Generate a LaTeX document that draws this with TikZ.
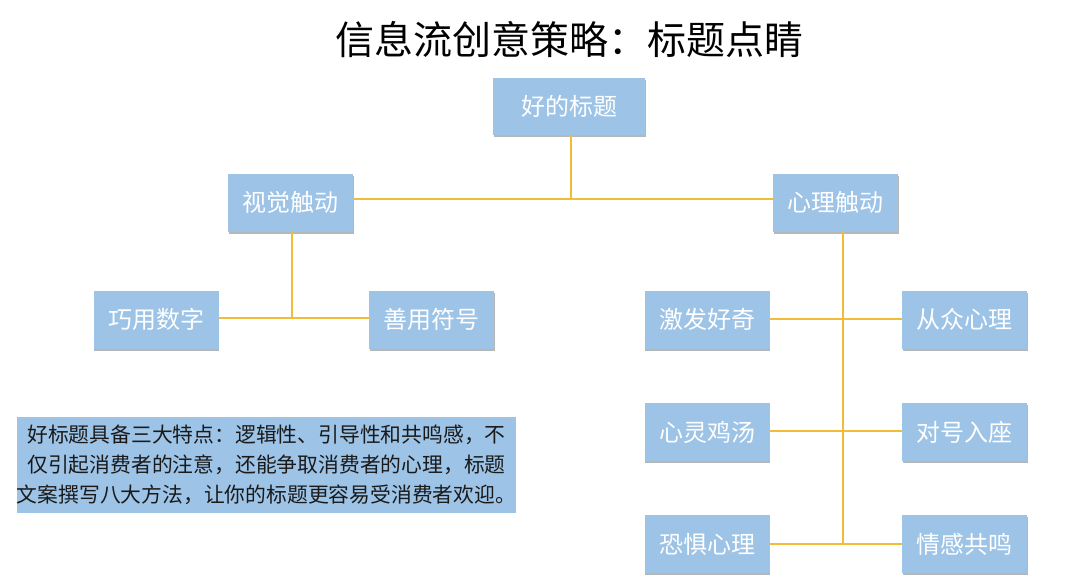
\documentclass[tikz,border=0pt]{standalone}
\usepackage{fontspec}
\setmainfont{Noto Sans CJK SC}
\usetikzlibrary{shadows}
\definecolor{boxblue}{HTML}{9DC3E6}
\definecolor{linegold}{HTML}{F2BC3A}
\definecolor{txtdark}{HTML}{1A1A1A}
\begin{document}
\begin{tikzpicture}[x=1pt,y=-1pt,
  topic/.style={fill=boxblue, text=white, font=\fontsize{24}{27}\selectfont,
    minimum width=125pt, minimum height=58pt, inner sep=0pt,
    drop shadow={shadow xshift=0.6pt, shadow yshift=-2pt, opacity=0.4, fill=black!70}},
  link/.style={draw=linegold, line width=2pt}]
\useasboundingbox (0,0) rectangle (1080,581);
\node[font=\fontsize{39}{43}\selectfont, text=black] (title) at (569,40) {信息流创意策略：标题点睛};

\node[topic, minimum width=152pt, minimum height=57pt] (root) at (569,106.5) {好的标题};
\node[topic] (vis) at (290.5,202.5) {视觉触动};
\node[topic] (psy) at (835.5,202.5) {心理触动};
\node[topic] (num) at (156,319.5) {巧用数字};
\node[topic] (sym) at (431.5,319.5) {善用符号};
\node[topic] (cur) at (707,319.5) {激发好奇};
\node[topic] (her) at (964.5,319.5) {从众心理};
\node[topic] (sou) at (707,432) {心灵鸡汤};
\node[topic] (mat) at (964.5,432) {对号入座};
\node[topic] (fea) at (707,544) {恐惧心理};
\node[topic] (emo) at (964.5,544) {情感共鸣};

\node[fill=boxblue, text=txtdark, minimum width=497pt, minimum height=96pt, inner sep=0pt,
  align=center, font=\fontsize{20.8}{30}\selectfont] (note) at (266.5,465)
  {好标题具备三大特点：逻辑性、引导性和共鸣感，不\\仅引起消费者的注意，还能争取消费者的心理，标题\\文案撰写八大方法，让你的标题更容易受消费者欢迎。};

\coordinate (j0) at (571,199);
\coordinate (j1) at (292,318);
\coordinate (j2) at (843,544);
\coordinate (psyb) at (843,232);

\draw[link] (root.south -| j0) -- (j0);
\draw[link] (vis.east |- j0) -- (psy.west |- j0);
\draw[link] (vis.south -| j1) -- (j1);
\draw[link] (num.east |- j1) -- (sym.west |- j1);
\draw[link] (psyb) -- (j2);
\draw[link] ([yshift=0.5pt]cur.east) -- ([yshift=0.5pt]her.west);
\draw[link] ([yshift=1pt]sou.east) -- ([yshift=1pt]mat.west);
\draw[link] (fea.east) -- (emo.west);
\end{tikzpicture}
\end{document}
